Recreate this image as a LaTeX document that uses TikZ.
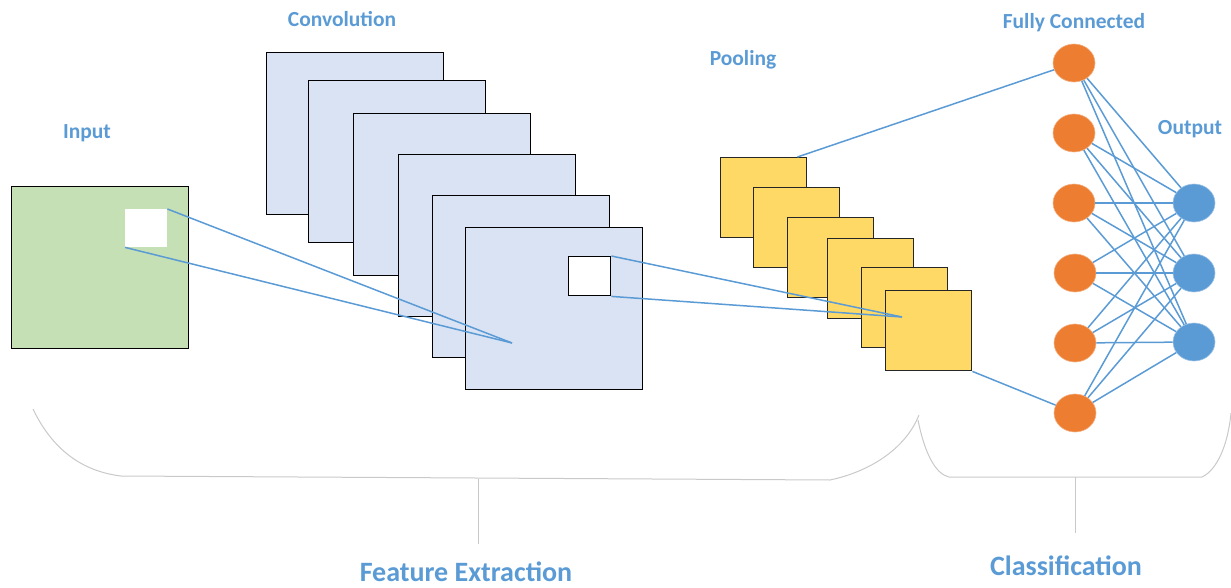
\documentclass[tikz,border=0pt]{standalone}
\usepackage{fontspec}
\setmainfont{Carlito}
\usetikzlibrary{shapes.geometric}
\definecolor{lblue}{HTML}{5B9BD5}
\definecolor{convfill}{HTML}{DAE3F3}
\definecolor{infill}{HTML}{C5E0B4}
\definecolor{poolfill}{HTML}{FFD966}
\definecolor{fcorange}{HTML}{ED7D31}
\definecolor{bracegray}{HTML}{C9C9C9}
\tikzset{
  lbl/.style={text=lblue, font=\bfseries\fontsize{21.5}{24}\selectfont, anchor=base, inner sep=0pt},
  biglbl/.style={text=lblue, font=\bfseries\fontsize{28}{32}\selectfont, anchor=base, inner sep=0pt},
  convbox/.style={draw=black, fill=convfill, line width=1.4pt, minimum width=177pt, minimum height=162pt, anchor=north west, inner sep=0pt},
  poolbox/.style={draw=black!85, fill=poolfill, line width=1.4pt, minimum width=86pt, minimum height=80pt, anchor=north west, inner sep=0pt},
  fcnode/.style={ellipse, fill=fcorange, draw=fcorange!60!white, line width=0.6pt, minimum width=42pt, minimum height=38pt, inner sep=0pt},
  outnode/.style={ellipse, fill=lblue, draw=lblue!60!white, line width=0.6pt, minimum width=42pt, minimum height=38pt, inner sep=0pt},
  conn/.style={draw=lblue, line width=1.5pt},
  bracel/.style={draw=bracegray, line width=1pt}
}
\begin{document}
\begin{tikzpicture}[x=1pt, y=-1pt]
\useasboundingbox (0,0) rectangle (1231,588);
% labels
\node[lbl] (linput) at (87,139) {Input};
\node[lbl] (lconv) at (342,27) {Convolution};
\node[lbl] (lpool) at (743,66) {Pooling};
\node[lbl] (lfc) at (1074,29) {Fully Connected};
\node[lbl] (lout) at (1190,135) {Output};
\node[biglbl] (lfe) at (466,581) {Feature Extraction};
\node[biglbl] (lcl) at (1066,575) {Classification};
% input
\node[draw=black, fill=infill, line width=1.4pt, minimum width=177pt, minimum height=162pt, anchor=north west, inner sep=0pt] (inp) at (11,186) {};
\node[fill=white, minimum width=42pt, minimum height=38pt, anchor=north west, inner sep=0pt] (inwin) at (125,209) {};
% convolution stack
\node[convbox] (c1) at (266,52) {};
\node[convbox] (c2) at (308,80) {};
\node[convbox] (c3) at (353,113) {};
\node[convbox] (c4) at (398,154) {};
\node[convbox] (c5) at (432,195) {};
\node[convbox] (c6) at (465,227) {};
\node[draw=black, fill=white, line width=1.4pt, minimum width=42pt, minimum height=39pt, anchor=north west, inner sep=0pt] (cwin) at (568,256) {};
% pooling stack
\node[poolbox] (p1) at (720,157) {};
\node[poolbox] (p2) at (753,187) {};
\node[poolbox] (p3) at (787,217) {};
\node[poolbox] (p4) at (827,238) {};
\node[poolbox] (p5) at (861,267) {};
\node[poolbox] (p6) at (885,290) {};
% convergence points
\coordinate (convpt) at (512,343);
\coordinate (poolpt) at (902,317);
% fully connected
\node[fcnode] (f1) at (1074,63) {};
\node[fcnode] (f2) at (1074,133) {};
\node[fcnode] (f3) at (1074,203) {};
\node[fcnode] (f4) at (1075,273) {};
\node[fcnode] (f5) at (1075,343) {};
\node[fcnode] (f6) at (1075,413) {};
\node[outnode] (o1) at (1194,203) {};
\node[outnode] (o2) at (1194,273) {};
\node[outnode] (o3) at (1194,342) {};
% connectors
\draw[conn] (inwin.north east) -- (convpt);
\draw[conn] (inwin.south west) -- (convpt);
\draw[conn] (cwin.north east) -- (poolpt);
\draw[conn] (cwin.south east) -- (poolpt);
\draw[conn] ([xshift=-10pt]p1.north east) -- (f1);
\draw[conn] (p6.south east) -- (f6);
\foreach \i in {1,...,6}{
  \foreach \j in {1,2,3}{
    \draw[conn] (f\i) -- (o\j);
  }
}
% braces
\draw[bracel] (33,409) .. controls (55,455) and (88,472) .. (121,476) -- (830,480) .. controls (868,472) and (905,450) .. (919,415);
\draw[bracel] (478,479) -- (478,544);
\draw[bracel] (918,420) .. controls (925,455) and (936,474) .. (949,477) -- (1202,477) .. controls (1217,470) and (1228,445) .. (1231,413);
\draw[bracel] (1075,477) -- (1075,533);
\end{tikzpicture}
\end{document}
